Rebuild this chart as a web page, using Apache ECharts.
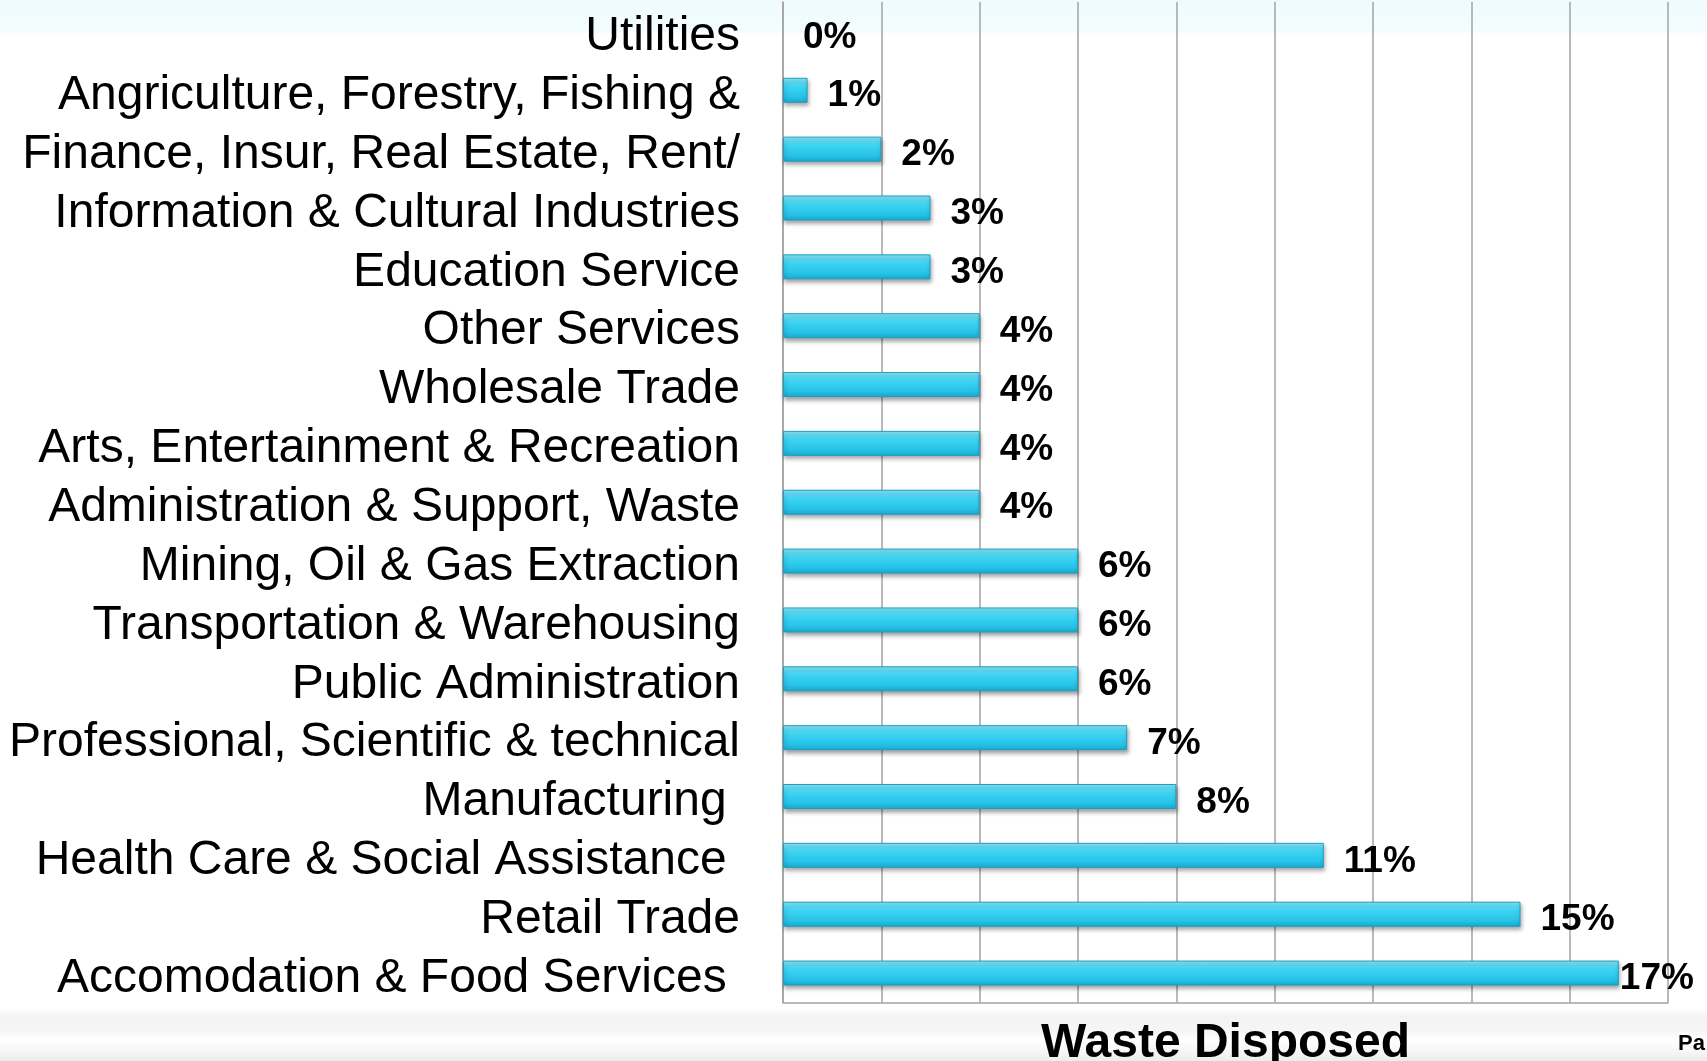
<!DOCTYPE html>
<html>
<head>
<meta charset="utf-8">
<title>Waste Disposed</title>
<script src="https://cdn.jsdelivr.net/npm/echarts@6/dist/echarts.min.js"></script>
<style>
  html, body { margin: 0; padding: 0; background: #fff; }
  #chart { width: 1707px; height: 1061px; }
</style>
</head>
<body>
<div id="chart"></div>
<script>
// sectors, top to bottom (trailing spaces are in the original labels)
var categories = [
  'Utilities',
  'Angriculture, Forestry, Fishing &',
  'Finance, Insur, Real Estate, Rent/',
  'Information & Cultural Industries',
  'Education Service',
  'Other Services',
  'Wholesale Trade',
  'Arts, Entertainment & Recreation',
  'Administration & Support, Waste',
  'Mining, Oil & Gas Extraction',
  'Transportation & Warehousing',
  'Public Administration',
  'Professional, Scientific & technical',
  'Manufacturing ',
  'Health Care & Social Assistance ',
  'Retail Trade',
  'Accomodation & Food Services '
]
// share of waste disposed, in %
var wasteValues = [0, 0.5, 2, 3, 3, 4, 4, 4, 4, 6, 6, 6, 7, 8, 11, 15, 17]
var valueLabels = ['0%', '1%', '2%', '3%', '3%', '4%', '4%', '4%', '4%', '6%', '6%', '6%', '7%', '8%', '11%', '15%', '17%']

var FONT = 'Arial, "Liberation Sans", Helvetica, sans-serif'

var chart = echarts.init(document.getElementById('chart'))

var barData = wasteValues.map(function (v, i) {
  var item = { value: v }
  if (v === 0) {
    item.itemStyle = { borderWidth: 0, shadowBlur: 0, shadowOffsetY: 0, shadowOffsetX: 0 }
  }
  // last label sits right against the bar end
  if (i === wasteValues.length - 1) {
    item.label = { distance: 1 }
  }
  return item
})

var option = {
  animation: false,
  backgroundColor: new echarts.graphic.LinearGradient(0, 0, 0, 1, [
    { offset: 0, color: '#eefbfd' },
    { offset: 0.03, color: '#f4fdfe' },
    { offset: 0.032, color: '#ffffff' },
    { offset: 0.95, color: '#ffffff' },
    { offset: 0.958, color: '#f3f3f3' },
    { offset: 0.972, color: '#f6f6f6' },
    { offset: 0.98, color: '#ffffff' },
    { offset: 0.99, color: '#f7f7f7' },
    { offset: 1, color: '#ececec' }
  ]),
  grid: {
    left: 783,
    right: 39,
    top: 2,
    bottom: 58.5,
    containLabel: false,
    outerBoundsMode: 'none'
  },
  xAxis: {
    type: 'value',
    min: 0,
    max: 18,
    interval: 2,
    axisLabel: { show: false },
    axisTick: { show: false },
    axisLine: { show: true, lineStyle: { color: '#a3a3a3', width: 1.5 } },
    splitLine: { show: true, lineStyle: { color: '#a3a3a3', width: 1.5 } },
    name: 'Waste Disposed',
    nameLocation: 'middle',
    nameGap: 17,
    nameTextStyle: {
      fontFamily: FONT,
      fontWeight: 'bold',
      fontSize: 48,
      color: '#000',
      verticalAlign: 'top'
    }
  },
  yAxis: {
    type: 'category',
    inverse: true,
    data: categories,
    axisTick: { show: false },
    axisLine: { show: true, lineStyle: { color: '#a3a3a3', width: 1.5 } },
    axisLabel: {
      interval: 0,
      margin: 43,
      color: '#000',
      formatter: function (v) {
        return '{c|' + v + '}'
      },
      rich: {
        c: {
          fontFamily: FONT,
          fontSize: 48,
          color: '#000',
          padding: [11, 0, 0, 0]
        }
      }
    }
  },
  series: [
    {
      type: 'bar',
      data: barData,
      barWidth: 25,
      itemStyle: {
        color: new echarts.graphic.LinearGradient(0, 0, 0, 1, [
          { offset: 0, color: '#86e6f8' },
          { offset: 0.35, color: '#3ed4f3' },
          { offset: 0.75, color: '#27c3e8' },
          { offset: 1, color: '#18a9cf' }
        ]),
        borderColor: '#1f9fc0',
        borderWidth: 1,
        shadowColor: 'rgba(0,0,0,0.35)',
        shadowBlur: 4,
        shadowOffsetX: 1,
        shadowOffsetY: 3
      },
      label: {
        show: true,
        position: 'right',
        distance: 20,
        offset: [0, 6],
        fontFamily: FONT,
        fontWeight: 'bold',
        fontSize: 37,
        color: '#000',
        formatter: function (p) {
          return valueLabels[p.dataIndex]
        }
      }
    }
  ],
  graphic: [
    {
      type: 'text',
      left: 1678,
      top: 1033,
      style: {
        text: 'Pa',
        font: 'bold 22px Arial, "Liberation Sans", sans-serif',
        fill: '#000'
      }
    }
  ]
}

chart.setOption(option)
</script>
</body>
</html>
